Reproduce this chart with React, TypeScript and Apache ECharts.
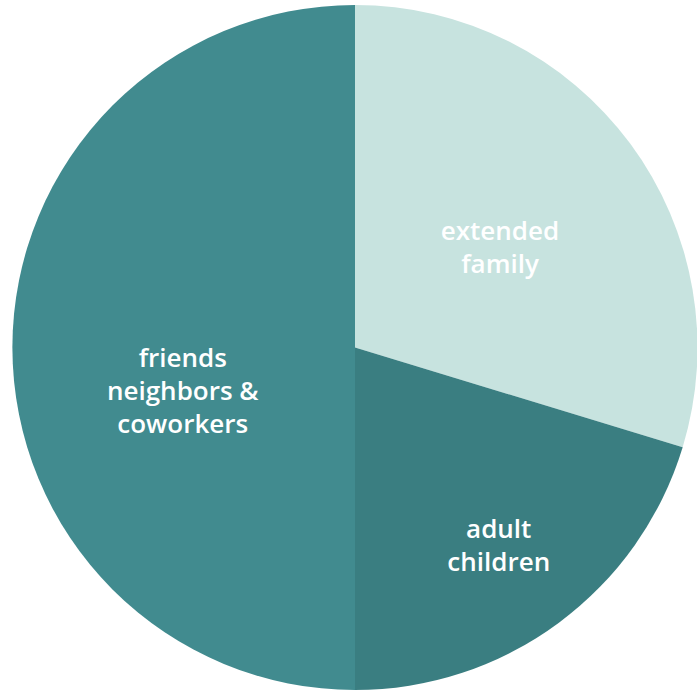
import React, { useEffect, useRef } from "react";
import * as echarts from "echarts";

const categories = ["extended\nfamily", "adult\nchildren", "friends\nneighbors &\ncoworkers"];
const values = [29.7, 20.3, 50];
const colors = ["#c7e3df", "#3a7e81", "#418b8f"];
const labelColors = ["#ffffff", "#ffffff", "#ffffff"];
const labelShifts = [
  [5, 3],
  [40, 57],
  [2, 42],
];

export default function App() {
  const ref = useRef<HTMLDivElement>(null);
  useEffect(() => {
    document.body.style.margin = "0";
    const chart = echarts.init(ref.current!, null, { renderer: "svg" });
    chart.setOption({
      animation: false,
      series: [
        {
          type: "pie",
          center: [355, 347.5],
          radius: [0, 342.5],
          startAngle: 90,
          clockwise: true,
          avoidLabelOverlap: false,
          emphasis: { disabled: true },
          itemStyle: { borderWidth: 0 },
          label: {
            show: true,
            position: "inside",
            fontFamily: "'Open Sans', sans-serif",
            fontWeight: 600,
            fontSize: 26,
            lineHeight: 33,
            align: "center",
          },
          labelLine: { show: false },
          labelLayout: (p: any) => ({
            dx: labelShifts[p.dataIndex][0],
            dy: labelShifts[p.dataIndex][1],
          }),
          data: categories.map((c, i) => ({
            name: c,
            value: values[i],
            itemStyle: { color: colors[i] },
            label: { color: labelColors[i], formatter: "{b}" },
          })),
        },
      ],
    });
    return () => chart.dispose();
  }, []);
  return <div ref={ref} style={{ width: 697, height: 692 }} />;
}
